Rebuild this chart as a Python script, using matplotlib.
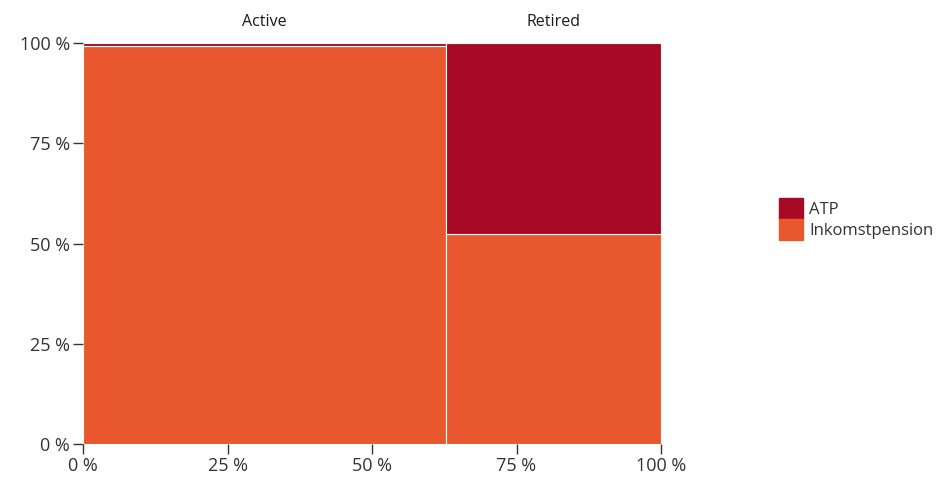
import numpy as np
import matplotlib.pyplot as plt
from matplotlib.patches import Patch

groups = ["Active", "Retired"]
group_share = [62.8, 37.2]  # column widths, % of total
series = ["Inkomstpension", "ATP"]
inkomstpension = [99.2, 52.4]
atp = [0.8, 47.6]
colors = {"Inkomstpension": "#E9572F", "ATP": "#A80A26"}
tick_labels = ["0 %", "25 %", "50 %", "75 %", "100 %"]

plt.rcParams["font.family"] = ["Open Sans", "DejaVu Sans"]
text_color = "#333333"

fig = plt.figure(figsize=(9.39, 4.8), dpi=100)
ax = fig.add_axes([83 / 939, 1 - 444 / 480, 578 / 939, 401 / 480])

widths = np.array(group_share)
lefts = np.concatenate([[0], np.cumsum(widths)[:-1]])
bottom = np.zeros(len(groups))
for name, vals in [("Inkomstpension", inkomstpension), ("ATP", atp)]:
    ax.bar(lefts, vals, width=widths, bottom=bottom, align="edge",
           color=colors[name], edgecolor="white", linewidth=0.8)
    bottom += np.array(vals)

for left, w, g in zip(lefts, widths, groups):
    ax.text(left + w / 2, 105.3, g, ha="center", va="center",
            fontsize=11.5, color="#1a1a1a")

ax.set_xlim(0, 100)
ax.set_ylim(0, 100)
ticks = [0, 25, 50, 75, 100]
ax.set_xticks(ticks)
ax.set_xticklabels(tick_labels)
ax.set_yticks(ticks)
ax.set_yticklabels(tick_labels)
ax.tick_params(colors=text_color, labelsize=13, length=7.5, width=1, pad=2)
for s in ax.spines.values():
    s.set_visible(False)

handles = [Patch(color=colors["ATP"], label="ATP"),
           Patch(color=colors["Inkomstpension"], label="Inkomstpension")]
fig.legend(handles=handles, loc="center left", bbox_to_anchor=(779 / 939, 1 - 219 / 480),
           frameon=False, fontsize=12, handlelength=1.45, handleheight=1.6,
           handletextpad=0.35, labelspacing=0, borderaxespad=0, borderpad=0,
           labelcolor=text_color)

fig.savefig("out.png", dpi=100)
